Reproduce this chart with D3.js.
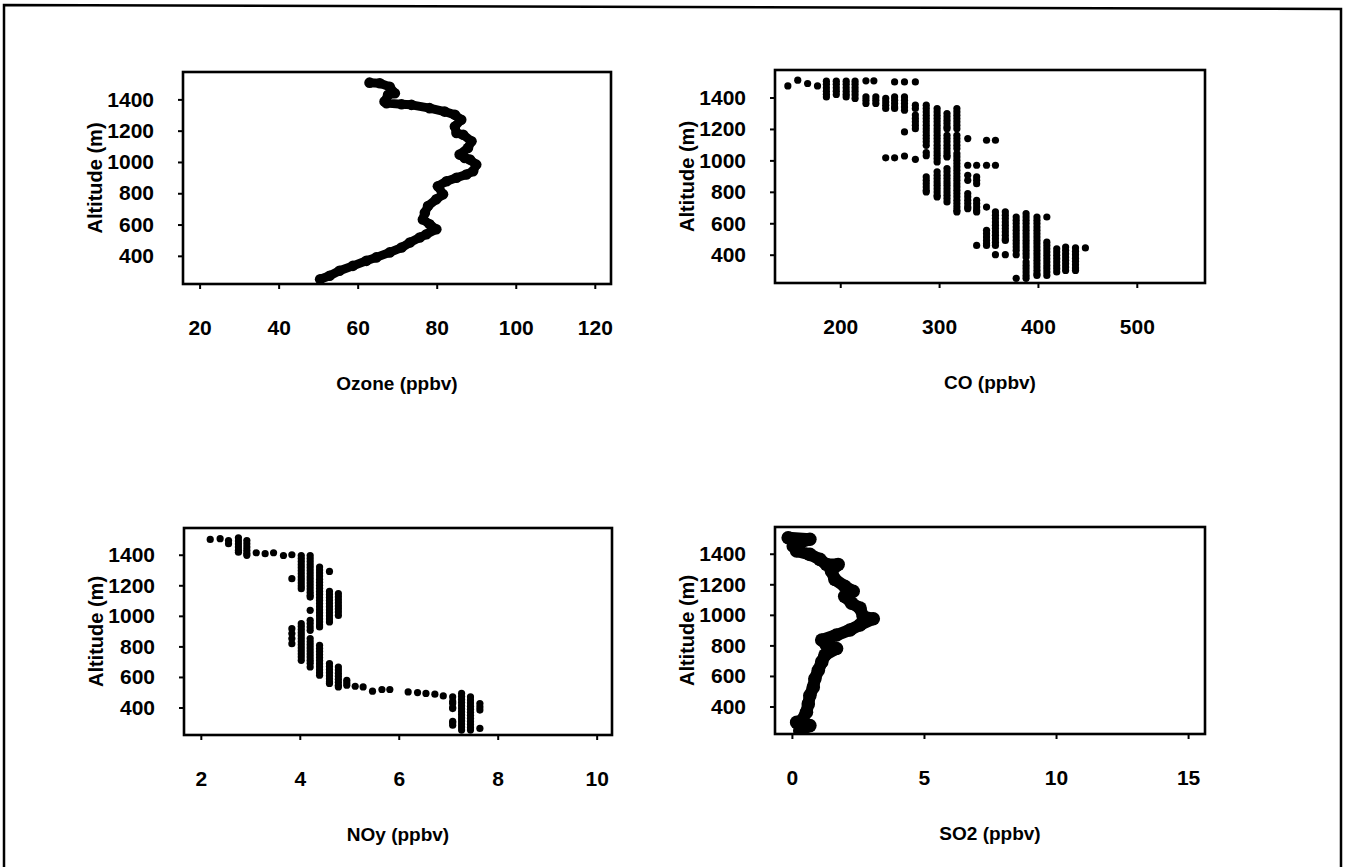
<!DOCTYPE html>
<html>
<head>
<meta charset="utf-8">
<script src="https://cdn.jsdelivr.net/npm/d3@7"></script>
<style>
  html, body { margin: 0; padding: 0; background: #fff; }
  svg { display: block; }
  text { font-family: "Liberation Sans", Arial, Helvetica, sans-serif; font-weight: bold; fill: #000; }
</style>
</head>
<body>
<svg id="chart" width="1347" height="867"></svg>
<script>
// ---- tick labels ----
const altitudeTicks = [400, 600, 800, 1000, 1200, 1400];
const ozoneTicks = [20, 40, 60, 80, 100, 120];
const coTicks = [200, 300, 400, 500];
const noyTicks = [2, 4, 6, 8, 10];
const so2Ticks = [0, 5, 10, 15];

// ---- axis titles ----
const altitudeTitle = "Altitude (m)";
const ozoneTitle = "Ozone (ppbv)";
const coTitle = "CO (ppbv)";
const noyTitle = "NOy (ppbv)";
const so2Title = "SO2 (ppbv)";

// ---- Ozone profile: [ppbv, altitude m], top of flight downwards ----
const ozone = [
  [63.0,1507],[65.6,1503],[68.1,1481],[69.4,1439],[67.7,1429],[66.8,1386],[67.3,1376],
  [71.1,1369],[73.6,1365],[78.2,1344],[82.0,1322],[84.6,1301],[86.2,1270],[84.6,1227],
  [85.0,1185],[86.7,1174],[88.8,1132],[87.9,1090],[85.8,1047],[87.1,1026],[88.4,1015],
  [90.0,983],[89.2,941],[87.5,920],[85.0,899],[82.5,877],[80.3,845],[81.6,793],
  [79.9,761],[77.8,718],[77.0,676],[76.5,633],[78.2,602],[79.9,570],[77.4,538],
  [75.7,517],[73.2,485],[71.1,453],[68.1,422],[64.7,390],[62.2,368],[58.8,336],
  [55.4,305],[52.9,273],[50.5,250]
];

// ---- SO2 profile: [ppbv, altitude m] ----
const so2 = [
  [-0.14,1505],[0.68,1495],[0.30,1473],[0.05,1451],[0.18,1418],[0.68,1396],[1.06,1363],
  [1.31,1330],[1.75,1330],[1.50,1286],[1.63,1231],[2.00,1187],[2.32,1154],[2.00,1121],
  [2.26,1077],[2.58,1044],[2.70,989],[3.08,974],[2.58,934],[2.20,901],[1.69,868],
  [1.13,835],[1.31,802],[1.69,780],[1.25,736],[1.13,692],[1.00,637],[0.87,582],
  [0.81,527],[0.68,472],[0.62,417],[0.55,362],[0.37,307],[0.18,296],[0.68,275],[0.30,242]
];

// ---- CO samples, grouped by reported value: [ppbv, [altitudes m]] ----
const coSamples = [
  [147,[1474]],[157,[1510]],[167,[1489]],[177,[1474]],
  [186,[1504,1484,1462,1440,1420,1404]],
  [196,[1504,1484,1462,1440,1419]],
  [206,[1504,1484,1462,1440,1420,1404]],
  [215,[1504,1484,1462,1440,1418,1394]],
  [226,[1506,1404,1383,1362]],
  [234,[1506]],
  [236,[1404,1383,1362]],
  [246,[1394,1372,1350,1330,1016]],
  [255,[1499,1404,1383,1362,1340,1330,1016]],
  [265,[1499,1404,1383,1362,1340,1319,1181,1028]],
  [276,[1499,1351,1330,1288,1266,1245,1224,1202,1007]],
  [287,[1351,1330,1308,1287,1266,1245,1224,1202,1181,1160,1139,1118,1096,1050,1030,895,873,852,830,810,799]],
  [298,[1330,1308,1287,1266,1245,1224,1202,1181,1160,1139,1118,1096,1075,1054,1033,1012,990,927,905,884,863,842,820,799,778,767]],
  [308,[1298,1277,1256,1235,1214,1202,1160,1139,1118,1096,1075,1054,1033,1022,948,927,905,884,863,842,820,799,778,757,736]],
  [318,[1330,1308,1287,1266,1245,1224,1202,1160,1139,1118,1096,1075,1043,1022,1001,980,959,938,916,895,874,852,831,810,789,768,746,725,704,683,672]],
  [329,[1139,969,905,873,789,768,746,725,704,693]],
  [338,[969,895,873,852,746,725,704,683,672,459]],
  [348,[1128,969,703,555,534,512,491,470,459]],
  [357,[1128,969,672,651,630,608,587,566,545,523,502,480,459,400]],
  [367,[672,651,630,608,587,566,545,523,502,491,400]],
  [378,[640,619,598,576,555,534,512,491,470,449,427,400,250]],
  [388,[661,640,619,598,576,555,534,512,491,470,449,427,406,385,353,332,311,290,268,250]],
  [399,[640,619,598,576,555,534,512,491,470,449,427,406,385,364,343,321,300,279,268]],
  [409,[640,480,459,438,417,396,375,353,332,311,290,268]],
  [419,[438,417,396,375,353,332,311,290]],
  [428,[449,428,406,385,364,343,321,300]],
  [438,[443,421,400,378,357,336,315,300]],
  [448,[443]]
];

// ---- NOy samples, grouped by reported value: [ppbv, [altitudes m]] ----
const noySamples = [
  [2.19,[1500]],[2.39,[1505]],
  [2.56,[1493,1472]],
  [2.76,[1511,1490,1470,1450,1430,1417]],
  [2.93,[1493,1472,1450,1430,1410,1396]],
  [3.12,[1413]],[3.30,[1407]],[3.47,[1413]],[3.67,[1395]],
  [3.84,[1400,1243,916,884,851,818]],
  [4.03,[1395,1375,1355,1335,1315,1295,1275,1255,1235,1215,1195,1178,949,930,910,890,870,850,830,810,790,770,750,730,709]],
  [4.21,[1395,1375,1355,1335,1315,1295,1275,1255,1235,1215,1195,1175,1155,1135,1123,1036,971,950,927,905,851,830,810,790,770,750,730,710,690,665]],
  [4.40,[1319,1300,1280,1260,1240,1220,1200,1180,1160,1140,1120,1101,1080,1060,1040,1020,1000,980,960,940,927,807,787,767,747,727,707,687,667,647,627,611]],
  [4.60,[1291,1160,1140,1120,1100,1080,1060,1040,1020,1000,980,960,688,668,648,628,608,588,568,557]],
  [4.78,[1145,1125,1105,1085,1065,1045,1025,1003,665,645,625,605,585,565,545,535]],
  [4.95,[578,562,546]],
  [5.12,[539]],[5.28,[535]],[5.47,[507]],[5.66,[518]],[5.82,[518]],
  [6.19,[502]],[6.38,[498]],[6.55,[492]],[6.73,[487]],[6.90,[476]],
  [7.09,[469,440,426,400,393,310,300,284]],
  [7.27,[492,472,452,432,412,392,372,352,332,312,292,272,252]],
  [7.45,[469,449,429,409,389,369,349,329,309,289,269,252]],
  [7.64,[426,404,383,263]]
];

// expand grouped samples into [value, altitude] points
const expand = groups => groups.flatMap(([v, alts]) => alts.map(a => [v, a]));

const svg = d3.select("#chart");

// page border
svg.append("path")
  .attr("d", "M4,875 L4,5 L1341,9 L1341,875")
  .attr("fill", "none").attr("stroke", "#000").attr("stroke-width", 2.5);

const altitudeDomain = [220, 1575];

const panels = [
  { kind: "trace", data: ozone, ticks: ozoneTicks, title: ozoneTitle,
    box: [183, 611, 72, 284], xDomain: [15.8, 124.1], lineWidth: 9 },
  { kind: "dots", data: expand(coSamples), ticks: coTicks, title: coTitle,
    box: [775, 1205, 70, 283], xDomain: [134, 569] },
  { kind: "dots", data: expand(noySamples), ticks: noyTicks, title: noyTitle,
    box: [184, 612, 528, 735], xDomain: [1.66, 10.31] },
  { kind: "trace", data: so2, ticks: so2Ticks, title: so2Title,
    box: [775, 1205, 527, 734], xDomain: [-0.64, 15.64], lineWidth: 12 }
];

panels.forEach(p => {
  const [x0, x1, y0, y1] = p.box;
  const x = d3.scaleLinear().domain(p.xDomain).range([x0, x1]);
  const y = d3.scaleLinear().domain(altitudeDomain).range([y1, y0]);
  const g = svg.append("g");

  // clip the marks to the plotting frame
  const clipId = "clip" + x0 + "_" + y0;
  svg.append("clipPath").attr("id", clipId)
    .append("rect").attr("x", x0).attr("y", y0).attr("width", x1 - x0).attr("height", y1 - y0);
  const marks = g.append("g").attr("clip-path", `url(#${clipId})`);

  if (p.kind === "trace") {
    marks.append("path")
      .datum(p.data)
      .attr("d", d3.line().x(d => x(d[0])).y(d => y(d[1])))
      .attr("fill", "none").attr("stroke", "#000")
      .attr("stroke-width", p.lineWidth)
      .attr("stroke-linejoin", "round").attr("stroke-linecap", "round");
    marks.selectAll("circle").data(p.data).join("circle")
      .attr("cx", d => x(d[0])).attr("cy", d => y(d[1]))
      .attr("r", p.lineWidth / 2 + 0.8).attr("fill", "#000");
  } else {
    marks.selectAll("circle").data(p.data).join("circle")
      .attr("cx", d => x(d[0])).attr("cy", d => y(d[1]))
      .attr("r", 3.6).attr("fill", "#000");
  }

  // left axis
  const ya = g.append("g").attr("transform", `translate(${x0},0)`)
    .call(d3.axisLeft(y).tickValues(altitudeTicks).tickSize(5).tickPadding(24).tickFormat(d3.format("d")));
  ya.select(".domain").remove();
  ya.selectAll(".tick line").attr("stroke", "#000").attr("stroke-width", 2);
  ya.selectAll(".tick text").style("font-size", "21px");

  // bottom axis
  const xa = g.append("g").attr("transform", `translate(0,${y1})`)
    .call(d3.axisBottom(x).tickValues(p.ticks).tickSize(5).tickPadding(31).tickFormat(d3.format("d")));
  xa.select(".domain").remove();
  xa.selectAll(".tick line").attr("stroke", "#000").attr("stroke-width", 2);
  xa.selectAll(".tick text").style("font-size", "21px");

  // frame
  g.append("rect")
    .attr("x", x0).attr("y", y0).attr("width", x1 - x0).attr("height", y1 - y0)
    .attr("fill", "none").attr("stroke", "#000").attr("stroke-width", 2.6);

  // axis titles
  g.append("text")
    .attr("transform", `translate(${x0 - 88},${(y0 + y1) / 2}) rotate(-90)`)
    .attr("text-anchor", "middle").attr("dy", "0.35em")
    .style("font-size", "20px")
    .text(altitudeTitle);
  g.append("text")
    .attr("x", (x0 + x1) / 2).attr("y", y1 + 99)
    .attr("text-anchor", "middle").attr("dy", "0.35em")
    .style("font-size", "19px")
    .text(p.title);
});
</script>
</body>
</html>
